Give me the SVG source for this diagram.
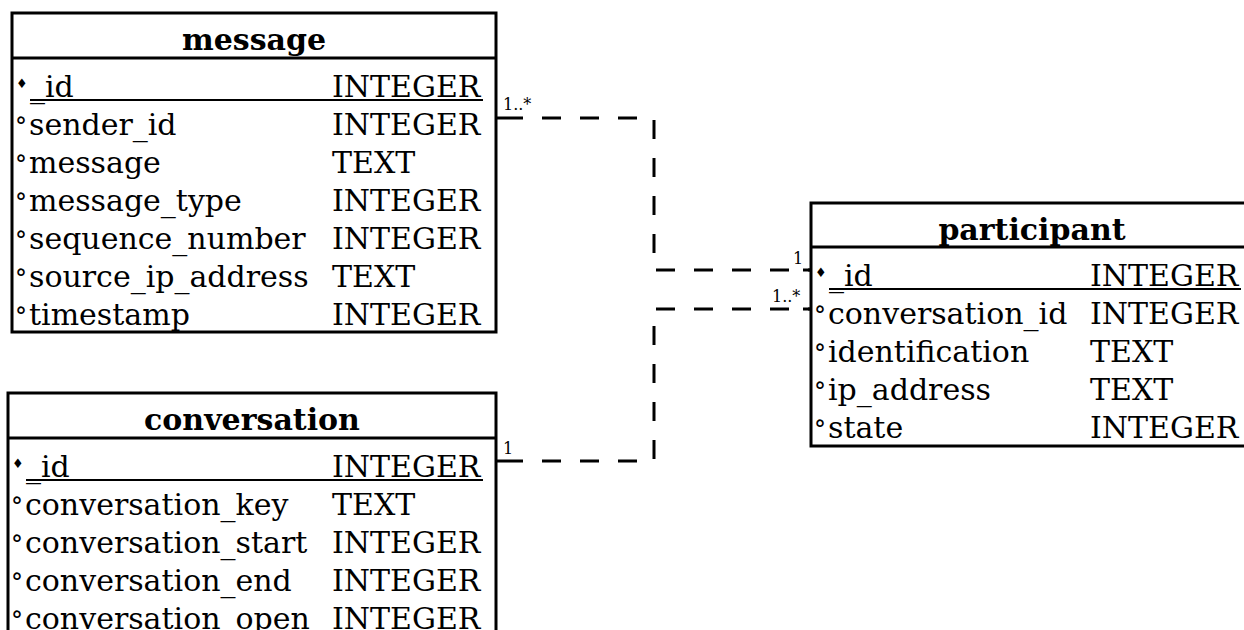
<svg xmlns="http://www.w3.org/2000/svg" width="1244" height="630" viewBox="0 0 1244 630">
<style>
.box{fill:#fff;stroke:#000;stroke-width:3}
.sep{stroke:#000;stroke-width:3}
.ul{stroke:#000;stroke-width:2}
.title{font-family:"DejaVu Serif",serif;font-weight:bold;font-size:30px;text-anchor:middle}
.f{font-family:"DejaVu Serif",serif;font-size:30px}
.b{font-family:"DejaVu Serif",serif;font-size:13px}
.o{font-family:"DejaVu Serif",serif;font-size:24px}
.c{fill:none;stroke:#000;stroke-width:3;stroke-dasharray:19 19}
.t{stroke:#000;stroke-width:3}
.lbl{font-family:"DejaVu Serif",serif;font-size:16px}
</style>
<rect width="1244" height="630" fill="#fff"/>
<g id="connectors">
<polyline class="c" points="496,118 654,118 654,270 811,270" stroke-dashoffset="-8"/>
<polyline class="c" points="496,461 654,461 654,309 811,309" stroke-dashoffset="-8"/>
<line class="t" x1="496" y1="118" x2="504" y2="118"/>
<line class="t" x1="803" y1="270" x2="811" y2="270"/>
<line class="t" x1="496" y1="461" x2="504" y2="461"/>
<line class="t" x1="803" y1="309" x2="811" y2="309"/>
<text class="lbl" x="503" y="110">1..*</text>
<text class="lbl" x="793" y="264">1</text>
<text class="lbl" x="503" y="454">1</text>
<text class="lbl" x="772" y="302">1..*</text>
</g>
<g id="message">
<rect class="box" x="12" y="13" width="484" height="319"/>
<line class="sep" x1="12" y1="58" x2="496" y2="58"/>
<text class="title" x="254" y="50">message</text>
<text class="b" x="16" y="88">♦</text>
<text class="f" x="30" y="97">_id</text><text class="f" x="332" y="97">INTEGER</text>
<line class="ul" x1="30" y1="100" x2="483" y2="100"/>
<text class="o" x="15" y="135">°</text><text class="f" x="29" y="135">sender_id</text><text class="f" x="332" y="135">INTEGER</text>
<text class="o" x="15" y="173">°</text><text class="f" x="29" y="173">message</text><text class="f" x="332" y="173">TEXT</text>
<text class="o" x="15" y="211">°</text><text class="f" x="29" y="211">message_type</text><text class="f" x="332" y="211">INTEGER</text>
<text class="o" x="15" y="249">°</text><text class="f" x="29" y="249">sequence_number</text><text class="f" x="332" y="249">INTEGER</text>
<text class="o" x="15" y="287">°</text><text class="f" x="29" y="287">source_ip_address</text><text class="f" x="332" y="287">TEXT</text>
<text class="o" x="15" y="325">°</text><text class="f" x="29" y="325">timestamp</text><text class="f" x="332" y="325">INTEGER</text>
</g>
<g id="conversation">
<rect class="box" x="8" y="393" width="488" height="250"/>
<line class="sep" x1="8" y1="438" x2="496" y2="438"/>
<text class="title" x="252" y="430">conversation</text>
<text class="b" x="12" y="468">♦</text>
<text class="f" x="26" y="477">_id</text><text class="f" x="332" y="477">INTEGER</text>
<line class="ul" x1="26" y1="480" x2="483" y2="480"/>
<text class="o" x="11" y="515">°</text><text class="f" x="25" y="515">conversation_key</text><text class="f" x="332" y="515">TEXT</text>
<text class="o" x="11" y="553">°</text><text class="f" x="25" y="553">conversation_start</text><text class="f" x="332" y="553">INTEGER</text>
<text class="o" x="11" y="591">°</text><text class="f" x="25" y="591">conversation_end</text><text class="f" x="332" y="591">INTEGER</text>
<text class="o" x="11" y="629">°</text><text class="f" x="25" y="629">conversation_open</text><text class="f" x="332" y="629">INTEGER</text>
</g>
<g id="participant">
<rect class="box" x="811" y="203" width="445" height="243"/>
<line class="sep" x1="811" y1="247" x2="1256" y2="247"/>
<text class="title" x="1032" y="240">participant</text>
<text class="b" x="815" y="277">♦</text>
<text class="f" x="829" y="286">_id</text><text class="f" x="1090" y="286">INTEGER</text>
<line class="ul" x1="829" y1="289" x2="1241" y2="289"/>
<text class="o" x="814" y="324">°</text><text class="f" x="828" y="324">conversation_id</text><text class="f" x="1090" y="324">INTEGER</text>
<text class="o" x="814" y="362">°</text><text class="f" x="828" y="362">identification</text><text class="f" x="1090" y="362">TEXT</text>
<text class="o" x="814" y="400">°</text><text class="f" x="828" y="400">ip_address</text><text class="f" x="1090" y="400">TEXT</text>
<text class="o" x="814" y="438">°</text><text class="f" x="828" y="438">state</text><text class="f" x="1090" y="438">INTEGER</text>
</g>
</svg>
